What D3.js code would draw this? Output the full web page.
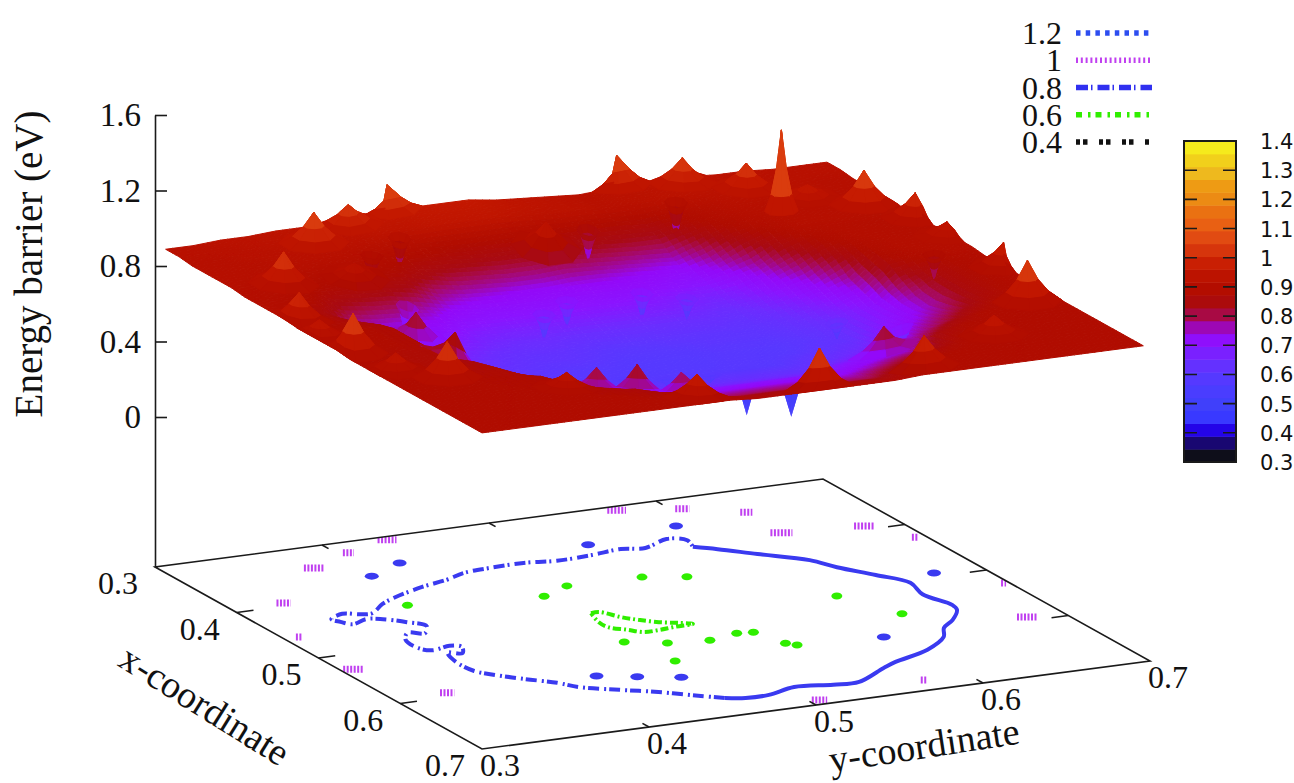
<!DOCTYPE html>
<html>
<head>
<meta charset="utf-8">
<title>Energy barrier</title>
<script src="https://cdnjs.cloudflare.com/ajax/libs/d3/7.8.5/d3.min.js"></script>
<style>
  html, body { margin: 0; padding: 0; background: #fff; }
  svg { display: block; }
  text { font-family: 'Liberation Serif', serif; fill: #111; }
  .cb text { font-family: 'DejaVu Sans', sans-serif; }
</style>
</head>
<body>
<div id="canvas"></div>
<script>
/* global d3 */
// surface, in hundredths of eV, rows = x, columns = y
const barrierRows = [
  [92,92,93,93,94,94,95,96,96,97,97,97,95,94,93,92,93,94,94,94,93,93,92,92,92],
  [92,92,92,93,93,94,94,95,95,96,96,96,95,94,93,92,93,93,94,93,93,92,92,92,92],
  [91,91,92,92,93,93,93,94,94,95,95,95,94,93,93,92,92,93,93,93,92,92,92,91,91],
  [91,91,91,92,92,92,91,90,89,88,88,88,88,87,87,87,86,88,90,92,92,92,92,91,91],
  [91,91,91,91,90,90,89,87,86,85,84,84,85,84,83,82,82,86,89,91,91,91,91,91,91],
  [91,90,90,89,88,88,87,84,81,80,79,79,80,79,78,77,76,81,87,90,91,91,91,91,91],
  [90,90,89,87,86,85,83,78,76,75,74,74,75,75,74,73,72,76,83,88,91,91,91,91,90],
  [90,89,88,83,81,80,77,74,72,72,72,72,72,72,72,71,70,73,77,85,89,90,90,90,90],
  [90,88,85,78,76,75,74,71,70,70,70,70,70,70,69,68,67,69,74,80,87,90,90,90,90],
  [90,88,86,82,72,72,71,68,67,67,67,67,67,67,67,66,65,67,71,75,83,89,90,90,90],
  [89,88,87,85,72,69,68,66,65,65,64,64,64,64,64,64,63,65,68,72,77,88,90,90,90],
  [89,88,88,87,73,68,66,64,63,63,62,61,61,62,62,62,62,63,66,69,74,86,89,90,90],
  [89,88,88,87,74,66,64,63,62,62,61,60,60,60,61,61,61,62,64,67,71,81,86,88,89],
  [89,88,88,87,76,66,62,62,61,60,60,59,59,59,60,60,60,61,63,67,71,77,85,88,89],
  [88,88,87,87,78,66,63,62,60,60,59,59,59,59,60,60,60,62,63,68,72,76,85,88,89],
  [88,88,87,87,83,70,65,63,62,60,60,60,60,60,60,60,62,63,65,70,74,78,85,88,89],
  [88,88,87,87,85,74,68,65,63,62,62,62,62,62,62,62,63,65,67,73,77,81,86,88,89],
  [88,88,88,87,87,81,72,69,66,64,64,64,64,64,64,64,66,68,70,76,80,85,88,88,89],
  [88,88,88,88,87,85,76,72,70,67,67,67,67,67,67,67,70,72,73,80,85,88,88,88,88],
  [88,88,88,88,88,87,81,77,73,71,71,71,71,71,71,71,73,75,77,85,88,88,88,88,88],
  [88,88,88,88,88,87,85,82,78,74,74,74,74,74,74,74,76,79,81,87,88,88,88,88,88],
  [88,88,88,88,88,88,87,86,82,79,77,77,77,77,77,77,80,83,86,88,88,88,88,88,88],
  [88,88,88,88,88,88,88,87,86,83,80,80,80,80,80,80,84,87,88,88,88,88,88,88,88],
  [88,88,88,88,88,88,88,88,88,86,84,84,84,84,84,84,87,88,88,88,88,88,88,88,88],
  [88,88,88,88,88,88,88,88,88,88,87,87,87,87,87,87,88,88,88,88,88,88,88,88,88]
];

// sharp peaks on the surface
const peakX = [.306,.320,.339,.394,.458,.528,.592,.307,.320,.341,.386,.393,.425,.527,.593,.681,.692,.636,.683,.597,.608,.619,.595,.464,.518,.393,.369,.374,.644,.491,.568,.464];
const peakY = [.436,.406,.376,.331,.309,.307,.332,.573,.606,.634,.633,.679,.694,.697,.679,.574,.506,.382,.437,.419,.438,.459,.592,.376,.373,.374,.657,.498,.634,.305,.313,.694];
const peakZ = [1.086,1.05,1.09,1.065,1.03,1.09,1.065,1.085,1.065,1.055,1.34,1.09,1.03,1.01,1.095,1.03,1.07,.95,.99,.84,.86,.82,.85,.86,.89,.95,.98,.98,.98,.97,.97,.97];

// shallow pits on the surface, and the two deep ones poking out under the front edge
const pitX = [.350,.367,.362,.349,.493,.427,.443,.430,.432,.442,.511,.558,.543,.555,.560,.589];
const pitY = [.422,.397,.529,.588,.672,.389,.463,.483,.527,.549,.605,.621,.462,.482,.505,.470];
const pitZ = [.74,.74,.70,.70,.76,.56,.56,.57,.57,.57,.57,.55,.57,.57,.57,.57];
const deepPitX = [.556,.586];
const deepPitY = [.529,.541];
const deepPitZ = [.36,.41];

// contours on the base plane, [x, y]
const contour08Dashed = [[.666,.462],[.656,.451],[.640,.435],[.627,.418],[.613,.401],[.600,.394],[.585,.381],[.569,.369],[.559,.364],[.541,.363],[.521,.367],[.525,.374],[.514,.379],[.509,.374],[.513,.362],[.506,.357],[.488,.358],[.476,.365],[.481,.373],[.469,.380],[.457,.374],[.446,.365],[.442,.357],[.448,.346],[.441,.342],[.434,.340],[.427,.350],[.432,.358],[.433,.365],[.419,.378],[.410,.390],[.398,.412],[.391,.430],[.383,.444],[.380,.461],[.379,.482],[.383,.500],[.381,.522],[.377,.541],[.381,.554],[.370,.572],[.377,.581],[.390,.578]];
const contour08Solid = [[.390,.578],[.400,.588],[.418,.603],[.441,.623],[.460,.630],[.483,.642],[.505,.652],[.528,.648],[.554,.653],[.564,.651],[.581,.640],[.593,.629],[.609,.621],[.628,.602],[.642,.576],[.650,.565],[.669,.541],[.668,.526],[.663,.505],[.671,.486],[.671,.472],[.666,.462]];
const contour06 = [[.484,.471],[.484,.476],[.498,.482],[.507,.488],[.516,.496],[.522,.505],[.527,.511],[.528,.500],[.530,.489],[.530,.480],[.522,.474],[.513,.467],[.501,.467],[.484,.471]];

// little closed contours round the peaks and pits
const blob08X = [.350,.367,.362,.349,.493,.595,.597,.608,.619];
const blob08Y = [.422,.397,.529,.588,.672,.592,.419,.438,.459];
const blob06X = [.427,.443,.430,.432,.442,.511,.558,.543,.555,.560,.554,.556,.583,.589,.589];
const blob06Y = [.389,.463,.483,.527,.549,.605,.621,.462,.482,.505,.524,.533,.539,.543,.470];

const xTicks = [.3,.4,.5,.6,.7];
const yTicks = [.3,.4,.5,.6,.7];
const zTicks = [0,.4,.8,1.2,1.6];
const cbTicks = [.3,.4,.5,.6,.7,.8,.9,1,1.1,1.2,1.3,1.4];
const legendLabels = ['1.2','1','0.8','0.6','0.4'];
const legendColors = ['#2d4df0','#c040f0','#3030f0','#30ee00','#111111'];
const legendDashes = ['4.5 5.2','2 2.8','12 3 1.5 5','6 6 2.5 5','4 3 4.5 11.5'];

const colorLevels = [.30,.33,.36,.40,.42,.45,.50,.55,.60,.65,.70,.74,.77,.80,.83,.88,.92,.97,1,1.05,1.1,1.15,1.2,1.25,1.3,1.35,1.4];
const colorValues = ['#0a0a0a','#101020','#180860','#2000d0','#2808ff','#3838ff','#4040fa','#4c3cff','#5838ff','#6c2cff','#8a14ff','#9408f8','#a0089c','#a80a50','#a80a14','#b00c00','#b81000','#c41800','#d02a08','#dc4010','#e85c14','#ea6c12','#ec8a14','#ee9c14','#eec020','#f2d818','#f8f820'];

(function () {
  'use strict';
  const width = 1294;
  const height = 783;

  // the projection is just scales added together
  const xToPx = d3.scaleLinear().domain([.3, .7]).range([0, 327]);
  const xToPy = d3.scaleLinear().domain([.3, .7]).range([0, 182]);
  const yToPx = d3.scaleLinear().domain([.3, .7]).range([155, 823]);
  const yToPy = d3.scaleLinear().domain([.3, .7]).range([0, -88]);
  const zScale = d3.scaleLinear().domain([0, 1.6]).range([417, 115]);
  const zBase = zScale.invert(567);

  const project = (x, y, z) => [xToPx(x) + yToPx(y), zScale(z) + xToPy(x) + yToPy(y)];
  const depth = (x, y) => xToPy(x) + yToPy(y);
  const color = d3.scaleLinear().domain(colorLevels).range(colorValues).clamp(true);
  const line = d3.line();
  const contourLine = d3.line().curve(d3.curveCatmullRom);

  // surface sits a touch inside the base box
  const xIdx = d3.scaleLinear().domain([.313, .7]).range([0, barrierRows.length - 1]).clamp(true);
  const yIdx = d3.scaleLinear().domain([.3, .696]).range([0, barrierRows[0].length - 1]).clamp(true);

  function zAt(x, y) {
    const fi = xIdx(x);
    const fj = yIdx(y);
    const i = Math.min(Math.floor(fi), barrierRows.length - 2);
    const j = Math.min(Math.floor(fj), barrierRows[0].length - 2);
    const a = fi - i;
    const b = fj - j;
    return ((1 - a) * (1 - b) * barrierRows[i][j] + (1 - a) * b * barrierRows[i][j + 1] +
      a * (1 - b) * barrierRows[i + 1][j] + a * b * barrierRows[i + 1][j + 1]) / 100;
  }

  const svg = d3.select('#canvas').append('svg')
    .attr('width', width)
    .attr('height', height);

  // base box
  const corners = [[.3, .3], [.7, .3], [.7, .7], [.3, .7]];
  svg.append('clipPath').attr('id', 'base-clip')
    .append('path')
    .attr('d', line(corners.map(c => project(c[0], c[1], zBase))) + 'Z');

  const base = svg.append('g').attr('clip-path', 'url(#base-clip)');

  function drawContour(points, stroke, dash, sw) {
    base.append('path')
      .attr('d', contourLine(points.map(p => project(p[0], p[1], zBase))))
      .attr('fill', 'none')
      .attr('stroke', stroke)
      .attr('stroke-width', sw)
      .attr('stroke-dasharray', dash);
  }
  drawContour(contour08Dashed, '#3a3af0', '11 3 2 5', 4);
  drawContour(contour08Solid, '#3a3af0', null, 4);
  drawContour(contour06, '#30ee00', '8 3 2 3', 4);

  function drawBlobs(xs, ys, fill, rx, ry) {
    base.selectAll(null)
      .data(xs.map((x, i) => project(x, ys[i], zBase)))
      .join('ellipse')
      .attr('cx', d => d[0])
      .attr('cy', d => d[1])
      .attr('rx', rx)
      .attr('ry', ry)
      .attr('fill', fill);
  }
  drawBlobs(blob08X, blob08Y, '#3a3af0', 7, 3.5);
  drawBlobs(blob06X, blob06Y, '#30ee00', 5.5, 3.5);

  // the 1 eV level only shows as specks round the tall peaks
  const specks = peakZ.map((z, i) => ({ z: z, p: project(peakX[i], peakY[i], zBase) })).filter(d => d.z >= 1);
  base.selectAll(null)
    .data(specks)
    .join('line')
    .attr('x1', d => d.p[0] - Math.min(Math.max((d.z - 1) * 220, 5), 22) / 2)
    .attr('x2', d => d.p[0] + Math.min(Math.max((d.z - 1) * 220, 5), 22) / 2)
    .attr('y1', d => d.p[1])
    .attr('y2', d => d.p[1])
    .attr('stroke', '#c040f0')
    .attr('stroke-width', 7)
    .attr('stroke-dasharray', '2 1.5');

  svg.append('path')
    .attr('d', line(corners.map(c => project(c[0], c[1], zBase))) + 'Z')
    .attr('fill', 'none')
    .attr('stroke', '#1a1a1a')
    .attr('stroke-width', 1.6);

  // ticks round the base box
  const tickData = [];
  xTicks.slice(1, -1).forEach(v => {
    tickData.push([project(v, .3, zBase), project(v, .31, zBase)]);
    tickData.push([project(v, .7, zBase), project(v, .69, zBase)]);
  });
  yTicks.slice(1, -1).forEach(v => {
    tickData.push([project(.7, v, zBase), project(.692, v, zBase)]);
    tickData.push([project(.3, v, zBase), project(.308, v, zBase)]);
  });
  svg.append('g').selectAll('path')
    .data(tickData)
    .join('path')
    .attr('d', d => line(d))
    .attr('stroke', '#1a1a1a')
    .attr('stroke-width', 1.6);

  svg.append('g').selectAll('text')
    .data(xTicks)
    .join('text')
    .attr('x', d => project(d, .3, zBase)[0] - 37)
    .attr('y', d => project(d, .3, zBase)[1] + 27)
    .attr('text-anchor', 'middle')
    .attr('font-size', 32)
    .text(d => d.toFixed(1));

  svg.append('g').selectAll('text')
    .data(yTicks)
    .join('text')
    .attr('x', d => project(.7, d, zBase)[0] + 18)
    .attr('y', d => project(.7, d, zBase)[1] + 27)
    .attr('text-anchor', 'middle')
    .attr('font-size', 32)
    .text(d => d.toFixed(1));

  // z axis
  const zAxisScale = d3.scaleLinear().domain([zBase, 1.6]).range([567, 115]);
  const zAxis = svg.append('g')
    .attr('transform', 'translate(155,0)')
    .call(d3.axisLeft(zAxisScale).tickValues(zTicks).tickSizeInner(-12).tickSizeOuter(0).tickPadding(14).tickFormat(d => d === 0 ? '0' : d3.format('.1f')(d)));
  zAxis.selectAll('path, line').attr('stroke', '#1a1a1a').attr('stroke-width', 1.6);
  zAxis.selectAll('text').attr('font-size', 33).attr('font-family', 'Liberation Serif').attr('fill', '#111');

  // collect every facet then paint back to front
  const facets = [];
  function addFacet(pts, bias) {
    const mx = d3.mean(pts, p => p[0]);
    const my = d3.mean(pts, p => p[1]);
    facets.push({
      d: line(pts.map(p => project(p[0], p[1], p[2]))) + 'Z',
      fill: color(Math.min(d3.mean(pts, p => p[2]), 1.04)),
      key: depth(mx, my) + bias
    });
  }

  const cellsPerStep = 4;
  const nx = (barrierRows.length - 1) * cellsPerStep;
  const ny = (barrierRows[0].length - 1) * cellsPerStep;
  const xAt = d3.scaleLinear().domain([0, nx]).range([.313, .7]);
  const yAt = d3.scaleLinear().domain([0, ny]).range([.3, .696]);
  for (let i = 0; i < nx; i++) {
    for (let j = 0; j < ny; j++) {
      const quad = [[i, j], [i + 1, j], [i + 1, j + 1], [i, j + 1]].map(c => {
        const x = xAt(c[0]);
        const y = yAt(c[1]);
        return [x, y, zAt(x, y)];
      });
      addFacet(quad, 0);
    }
  }

  // a concave cone on the surface, the fractions give the cusp shape
  const ringR = [.3, .62, 1];
  const ringH = [.52, .2, 0];
  const sectors = d3.range(8).map(k => k * Math.PI / 4 + Math.PI / 8);
  function conePoints(x, y, z, r) {
    const zc = zAt(x, y);
    const rings = ringR.map((fr, m) => sectors.map(a => {
      const px = Math.max(.313, Math.min(.7, x + r * fr * Math.cos(a)));
      const py = Math.max(.3, Math.min(.696, y + r * fr * Math.sin(a)));
      return [px, py, zAt(px, py) + ringH[m] * (z - zc)];
    }));
    return { apex: [x, y, z], rings: rings };
  }
  function eachConeFacet(cone, fn) {
    sectors.forEach((a, k) => {
      const n = (k + 1) % sectors.length;
      fn([cone.apex, cone.rings[0][k], cone.rings[0][n]]);
      for (let m = 0; m < cone.rings.length - 1; m++) {
        fn([cone.rings[m][k], cone.rings[m + 1][k], cone.rings[m + 1][n], cone.rings[m][n]]);
      }
    });
  }

  peakZ.forEach((z, i) => {
    const r = z > 1.2 ? .009 : .019;
    eachConeFacet(conePoints(peakX[i], peakY[i], z, r), pts => addFacet(pts, 14));
  });
  pitZ.forEach((z, i) => {
    eachConeFacet(conePoints(pitX[i], pitY[i], z, .006), pts => addFacet(pts, 14));
  });

  // deep pits go in first so only the tips show below the front edge
  const deepFacets = [];
  deepPitZ.forEach((z, i) => {
    const x = deepPitX[i];
    const y = deepPitY[i];
    const ring = sectors.map(a => project(x + .007 * Math.cos(a), y + .007 * Math.sin(a), zAt(x, y)));
    const tip = project(x, y, z);
    sectors.forEach((a, k) => {
      deepFacets.push(line([tip, ring[k], ring[(k + 1) % ring.length]]) + 'Z');
    });
  });
  svg.append('g').selectAll('path')
    .data(deepFacets)
    .join('path')
    .attr('d', d => d)
    .attr('fill', color(.52));

  facets.sort((a, b) => a.key - b.key);
  svg.append('g').selectAll('path')
    .data(facets)
    .join('path')
    .attr('d', d => d.d)
    .attr('fill', d => d.fill)
    .attr('stroke', d => d.fill)
    .attr('stroke-width', 1)
    .attr('stroke-linejoin', 'round');

  // axis titles
  svg.append('text')
    .attr('transform', 'translate(42,264) rotate(-90)')
    .attr('text-anchor', 'middle')
    .attr('font-size', 39)
    .text('Energy barrier (eV)');
  svg.append('text')
    .attr('transform', 'translate(198,716) rotate(32)')
    .attr('text-anchor', 'middle')
    .attr('font-size', 38)
    .text('x-coordinate');
  svg.append('text')
    .attr('transform', 'translate(926,758) rotate(-8.7)')
    .attr('text-anchor', 'middle')
    .attr('font-size', 38)
    .text('y-coordinate');

  // legend
  const legendY = d3.scalePoint().domain(legendLabels).range([33, 142]);
  const legend = svg.append('g').selectAll('g')
    .data(legendLabels)
    .join('g')
    .attr('transform', d => 'translate(0,' + legendY(d) + ')');
  legend.append('text')
    .attr('x', 1062)
    .attr('y', 11)
    .attr('text-anchor', 'end')
    .attr('font-size', 32)
    .text(d => d);
  legend.append('line')
    .attr('x1', 1076)
    .attr('x2', 1152)
    .attr('stroke', (d, i) => legendColors[i])
    .attr('stroke-width', 5.5)
    .attr('stroke-dasharray', (d, i) => legendDashes[i]);

  // colour bar
  const cbScale = d3.scaleLinear().domain([.3, 1.4]).range([462, 141]);
  const cb = svg.append('g').attr('class', 'cb');
  const bandEdges = d3.range(26).map(d3.scaleLinear().domain([0, 25]).range([.3, 1.4]));
  const bands = d3.pairs(bandEdges);
  cb.selectAll('rect')
    .data(bands)
    .join('rect')
    .attr('x', 1184)
    .attr('width', 52)
    .attr('y', d => cbScale(d[1]))
    .attr('height', d => cbScale(d[0]) - cbScale(d[1]) + .5)
    .attr('fill', d => color((d[0] + d[1]) / 2));
  cb.append('rect')
    .attr('x', 1184)
    .attr('y', 141)
    .attr('width', 52)
    .attr('height', 321)
    .attr('fill', 'none')
    .attr('stroke', '#1a1a1a')
    .attr('stroke-width', 2);
  cb.selectAll('.tick-l')
    .data(cbTicks.slice(1, -1))
    .join('path')
    .attr('d', d => 'M1184,' + cbScale(d) + 'h13M1223,' + cbScale(d) + 'h13')
    .attr('stroke', '#1a1a1a')
    .attr('stroke-width', 1.6);
  cb.selectAll('text')
    .data(cbTicks)
    .join('text')
    .attr('x', 1260)
    .attr('y', d => cbScale(d) + 8)
    .attr('font-size', 21)
    .text(d => d === 1 ? '1' : d.toFixed(1));
}());
</script>
</body>
</html>
